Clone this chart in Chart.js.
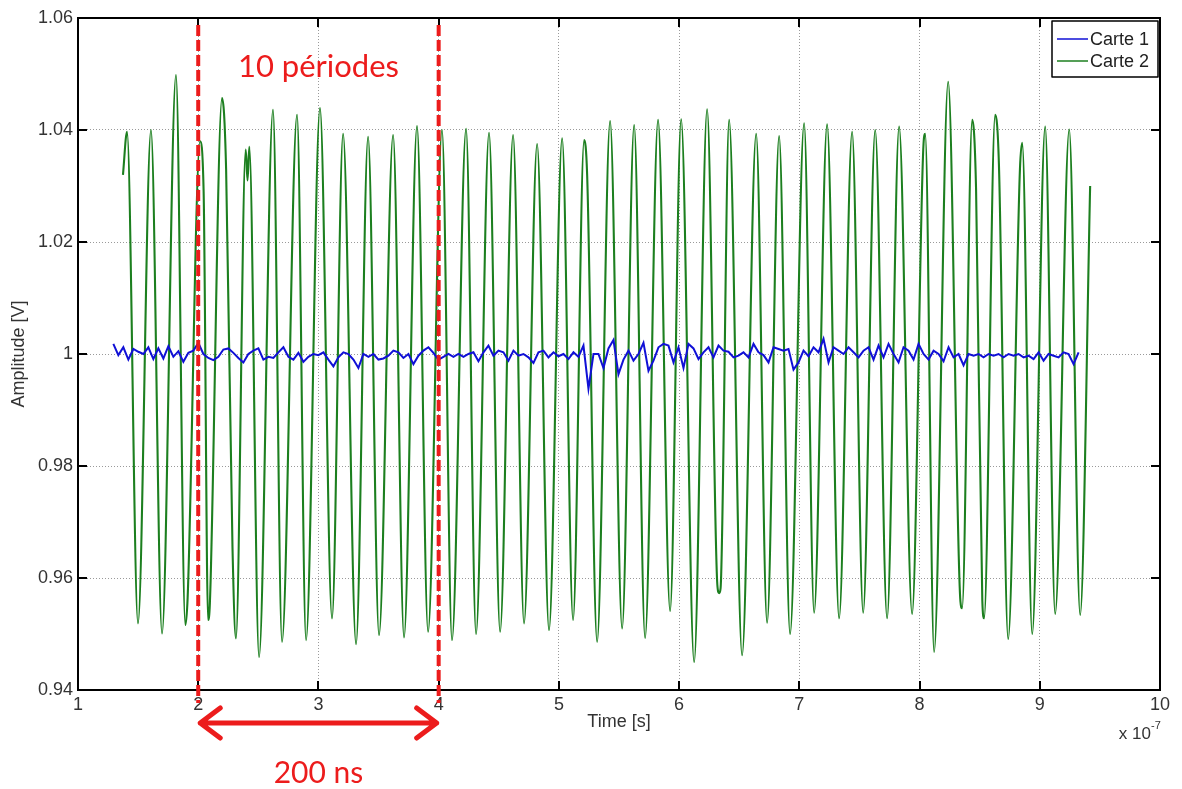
<!DOCTYPE html>
<html><head><meta charset="utf-8">
<script src="https://cdn.jsdelivr.net/npm/chart.js@4.4.0/dist/chart.umd.min.js"></script>
<style>html,body{margin:0;padding:0;background:#fff;}#wrap{width:1182px;height:789px;}canvas{display:block;}</style>
</head><body><div id="wrap"><canvas id="c" width="1182" height="789"></canvas></div>
<script>
// ---- data (time in units of 1e-7 s, amplitude in V) ----
const xTicks = [1,2,3,4,5,6,7,8,9,10];
const yTicks = [0.94,0.96,0.98,1,1.02,1.04,1.06];
const yTickLabels = ['0.94','0.96','0.98','1','1.02','1.04','1.06'];
const seriesNames = ['Carte 1','Carte 2'];
const xAxisTitle = 'Time [s]';
const yAxisTitle = 'Amplitude [V]';
const xExponent = '-7';
const periodMarkers = [2,4];
const periodText = '10 périodes';
const spanText = '200 ns';

const greenTimes = [1.374,1.408,1.499,1.607,1.699,1.815,1.893,1.912,2.015,2.045,2.082,2.097,2.198,2.232,2.285,2.314,2.395,2.410,2.425,2.506,
2.622,2.697,2.822,2.897,3.013,3.113,3.205,3.313,3.413,3.504,3.621,3.712,3.820,3.912,4.028,4.111,4.228,4.311,4.419,4.511,
4.619,4.710,4.819,4.918,5.027,5.118,5.210,5.235,5.318,5.426,5.526,5.626,5.717,5.825,5.925,6.017,6.125,6.233,6.318,6.333,
6.345,6.416,6.524,6.641,6.732,6.832,6.923,7.040,7.123,7.231,7.331,7.439,7.531,7.631,7.730,7.830,7.938,8.033,8.047,8.121,
8.238,8.340,8.354,8.438,8.470,8.522,8.537,8.629,8.660,8.737,8.835,8.854,8.937,9.045,9.128,9.245,9.336,9.419];
const greenValues = [1.0320,1.0397,0.9519,1.0400,0.9501,1.0498,0.9516,0.9565,1.0380,1.0290,0.9525,0.9555,1.0457,1.0330,0.9655,0.9492,1.0365,1.0310,1.0370,0.9459,
1.0436,0.9486,1.0427,0.9489,1.0439,0.9528,1.0393,0.9482,1.0388,0.9498,1.0391,0.9494,1.0407,0.9504,1.0400,0.9489,1.0402,0.9500,1.0395,0.9504,
1.0391,0.9519,1.0375,0.9507,1.0385,0.9525,1.0382,1.0320,0.9486,1.0416,0.9510,1.0409,0.9493,1.0418,0.9541,1.0419,0.9450,1.0437,0.9588,0.9573,
0.9582,1.0418,0.9462,1.0393,0.9520,1.0389,0.9500,1.0412,0.9538,1.0410,0.9528,1.0397,0.9538,1.0400,0.9528,1.0406,0.9536,1.0375,1.0393,0.9468,
1.0486,0.9558,0.9546,1.0418,1.0295,0.9560,0.9528,1.0427,1.0340,0.9491,1.0330,1.0377,0.9500,1.0406,0.9536,1.0401,0.9534,1.0300];

const blueStart = 1.294;   // first sample time
const blueStep = 0.0416;   // sample spacing
const blueValues = [
1.0018,0.9998,1.0012,0.9990,1.0009,1.0004,1.0000,1.0012,0.9991,1.0010,
0.9992,1.0014,0.9995,1.0005,0.9986,1.0002,1.0006,1.0020,1.0000,0.9993,
0.9989,0.9995,1.0008,1.0010,1.0002,0.9993,0.9985,1.0000,1.0006,1.0010,
0.9990,0.9995,0.9993,1.0003,1.0012,0.9995,0.9990,1.0002,0.9986,0.9995,
1.0000,0.9998,1.0003,0.9990,0.9978,0.9994,1.0003,1.0000,0.9990,0.9975,
1.0000,0.9995,1.0000,0.9990,0.9992,0.9997,1.0006,1.0003,0.9993,1.0000,
0.9982,0.9997,1.0006,1.0012,1.0002,0.9990,0.9995,1.0000,0.9995,1.0000,
0.9995,1.0000,1.0003,0.9987,1.0003,1.0015,0.9997,1.0006,1.0003,0.9988,
1.0006,0.9997,1.0000,0.9994,0.9984,1.0003,1.0006,0.9994,1.0003,0.9996,
1.0000,0.9991,1.0003,0.9995,1.0015,0.9938,1.0000,
1.0000,0.9975,1.0010,1.0025,0.9964,0.9990,1.0006,0.9988,1.0000,1.0020,
0.9970,0.9988,1.0012,1.0018,1.0015,0.9985,1.0012,0.9975,1.0018,1.0010,
0.9991,1.0003,1.0012,0.9994,1.0015,1.0006,1.0004,0.9994,0.9997,1.0003,
0.9994,1.0018,1.0003,0.9998,0.9985,1.0012,1.0009,1.0006,1.0009,0.9972,
0.9985,1.0006,0.9996,1.0012,1.0003,1.0027,0.9985,1.0012,1.0006,1.0000,
1.0012,1.0003,0.9994,1.0006,1.0012,0.9990,1.0015,0.9994,1.0018,1.0000,
0.9985,1.0012,1.0006,0.9990,1.0018,1.0000,0.9990,1.0006,1.0000,0.9987,
1.0012,0.9994,1.0000,0.9980,1.0000,0.9997,1.0000,0.9994,1.0000,0.9997,
1.0000,0.9994,1.0000,0.9997,1.0000,0.9994,0.9997,0.9991,1.0003,0.9988,
1.0000,0.9997,0.9994,1.0003,1.0000,0.9982,1.0003];

// ---- build datasets ----
const blueData = blueValues.map((v,i)=>({x: blueStart + i*blueStep, y: v}));
const greenData = greenTimes.map((t,i)=>({x: t, y: greenValues[i]}));

const FONT = "'Liberation Sans', Arial, Helvetica, sans-serif";
const RED = '#ec1c1c';

const decor = {
  id: 'decor',
  afterDatasetsDraw(chart){
    const ctx = chart.ctx, ca = chart.chartArea, xs = chart.scales.x, ys = chart.scales.y;
    ctx.save();
    // box
    ctx.strokeStyle = '#000'; ctx.lineWidth = 2;
    ctx.strokeRect(ca.left, ca.top, ca.right-ca.left, ca.bottom-ca.top);
    // inward ticks
    const tl = 9;
    ctx.beginPath();
    xTicks.forEach(v=>{ const px = Math.round(xs.getPixelForValue(v));
      if (v===xTicks[0]||v===xTicks[xTicks.length-1]) return;
      ctx.moveTo(px, ca.bottom); ctx.lineTo(px, ca.bottom-tl);
      ctx.moveTo(px, ca.top); ctx.lineTo(px, ca.top+tl); });
    yTicks.forEach(v=>{ const py = Math.round(ys.getPixelForValue(v));
      if (v===yTicks[0]||v===yTicks[yTicks.length-1]) return;
      ctx.moveTo(ca.left, py); ctx.lineTo(ca.left+tl, py);
      ctx.moveTo(ca.right, py); ctx.lineTo(ca.right-tl, py); });
    ctx.stroke();

    // axis titles
    ctx.fillStyle = '#333';
    ctx.font = '18px ' + FONT;
    ctx.textAlign = 'center'; ctx.textBaseline = 'middle';
    ctx.fillText(xAxisTitle, (ca.left+ca.right)/2, ca.bottom+32);
    ctx.save();
    ctx.translate(19, (ca.top+ca.bottom)/2); ctx.rotate(-Math.PI/2);
    ctx.fillText(yAxisTitle, 0, 0);
    ctx.restore();
    // exponent
    ctx.textAlign = 'right';
    ctx.font = '17px ' + FONT;
    ctx.fillText('x 10', ca.right-9, ca.bottom+44);
    ctx.textAlign = 'left';
    ctx.font = '11px ' + FONT;
    ctx.fillText(xExponent, ca.right-9, ca.bottom+36);

    // red dashed period markers
    const px = periodMarkers.map(v=>xs.getPixelForValue(v));
    ctx.strokeStyle = RED; ctx.lineWidth = 4; ctx.setLineDash([11,4]);
    px.forEach(p=>{ ctx.beginPath(); ctx.moveTo(p, ca.top+7); ctx.lineTo(p, ca.bottom+13); ctx.stroke(); });
    ctx.setLineDash([]);

    // double arrow
    const ay = ca.bottom + 33, a0 = px[0]+2, a1 = px[1]-2;
    ctx.lineWidth = 5; ctx.lineCap = 'round'; ctx.lineJoin = 'round';
    ctx.beginPath(); ctx.moveTo(a0, ay); ctx.lineTo(a1, ay);
    ctx.moveTo(a0+20, ay-15); ctx.lineTo(a0, ay); ctx.lineTo(a0+20, ay+15);
    ctx.moveTo(a1-20, ay-15); ctx.lineTo(a1, ay); ctx.lineTo(a1-20, ay+15);
    ctx.stroke();

    // red texts
    ctx.fillStyle = RED; ctx.textAlign = 'center'; ctx.textBaseline = 'middle';
    ctx.font = '31px Lato, "Open Sans", sans-serif';
    ctx.fillText(periodText, (px[0]+px[1])/2, ca.top+49);
    ctx.font = '30px Lato, "Open Sans", sans-serif';
    ctx.fillText(spanText, (px[0]+px[1])/2, ca.bottom+83);

    // legend
    const lx = 1052, ly = ca.top+3, lw = ca.right-2-lx, lh = 56;
    ctx.fillStyle = '#fff'; ctx.fillRect(lx, ly, lw, lh);
    ctx.strokeStyle = '#000'; ctx.lineWidth = 1.5; ctx.strokeRect(lx, ly, lw, lh);
    ctx.font = '18px ' + FONT; ctx.textAlign = 'left';
    chart.data.datasets.forEach((ds,i)=>{
      const yy = ly + 18 + i*22;
      ctx.strokeStyle = ds.borderColor; ctx.lineWidth = 1.5; ctx.lineCap='butt';
      ctx.beginPath(); ctx.moveTo(lx+5, yy); ctx.lineTo(lx+36, yy); ctx.stroke();
      ctx.fillStyle = '#222'; ctx.fillText(ds.label, lx+38, yy+1);
    });
    ctx.restore();
  }
};

new Chart(document.getElementById('c'), {
  type: 'line',
  data: { datasets: [
    { label: seriesNames[0], data: blueData, borderColor: '#1010d6', borderWidth: 2, pointRadius: 0, tension: 0, fill: false },
    { label: seriesNames[1], data: greenData, borderColor: '#1c7f1f', borderWidth: 2.1, pointRadius: 0, cubicInterpolationMode: 'monotone', fill: false }
  ]},
  options: {
    responsive: false, animation: false, devicePixelRatio: 1, parsing: false, normalized: true,
    layout: { padding: { top: 18, right: 22, left: 0, bottom: 0 } },
    plugins: { legend: { display: false }, tooltip: { enabled: false } },
    scales: {
      x: { type: 'linear', min: 1, max: 10,
        afterBuildTicks: s => { s.ticks = xTicks.map(v=>({value:v})); },
        afterFit: s => { s.height = 99; },
        ticks: { autoSkip: false, maxRotation: 0, padding: 4, color: '#333', font: { family: FONT, size: 18 } },
        grid: { color: '#9a9a9a', lineWidth: 1, drawTicks: false },
        border: { display: false, dash: [1,2] } },
      y: { type: 'linear', min: 0.94, max: 1.06,
        afterBuildTicks: s => { s.ticks = yTicks.map(v=>({value:v})); },
        afterFit: s => { s.width = 78; },
        ticks: { autoSkip: false, padding: 5, color: '#333', font: { family: FONT, size: 18 },
          callback: (v, i) => yTickLabels[i] },
        grid: { color: '#9a9a9a', lineWidth: 1, drawTicks: false },
        border: { display: false, dash: [1,2] } }
    }
  },
  plugins: [decor]
});
</script></body></html>
